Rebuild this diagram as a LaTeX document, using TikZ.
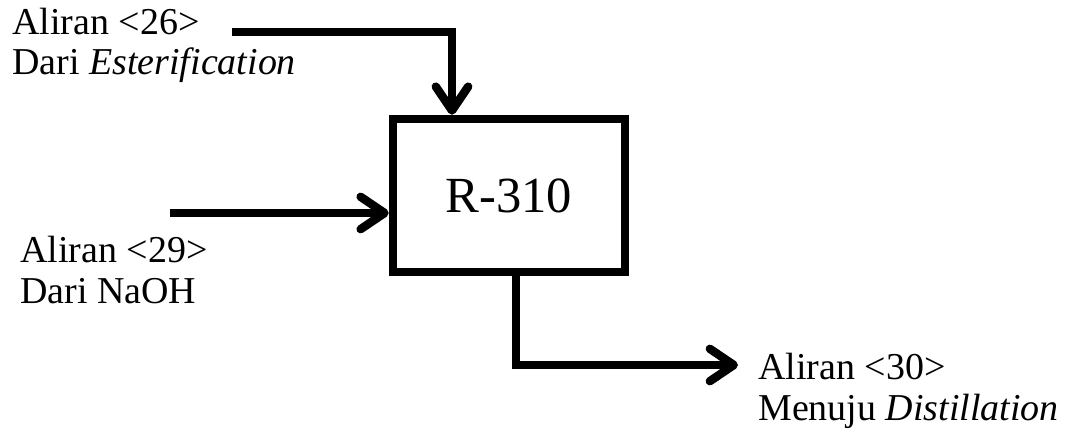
\documentclass[tikz,border=0pt]{standalone}
\usepackage{fontspec}
\setmainfont{Liberation Serif}
\usetikzlibrary{positioning,arrows.meta}

\tikzset{
  flow/.style={line width=6pt,-{Straight Barb[round,length=17pt,width=23pt]},line cap=butt,line join=miter},
  unit/.style={draw,line width=6pt,minimum width=5.8cm,minimum height=3.825cm,font=\fontsize{36}{40}\selectfont},
  lbl/.style={anchor=base west,align=left,inner sep=0pt,font=\fontsize{27}{28.5}\selectfont}
}

\begin{document}
\begin{tikzpicture}[x=0.025cm,y=-0.025cm]
        \useasboundingbox (0,0) rectangle (1066,433);
        % reactor
        \node[unit] (r310) at (509,195.5) {R-310};
        % stream labels (base = second line)
        \node[lbl] (in26) at (12,75) {Aliran <26>\\Dari \textit{Esterification}};
        \node[lbl] (in29) at (20,303) {Aliran <29>\\Dari NaOH};
        \node[lbl] (out30) at (758,420) {Aliran <30>\\Menuju \textit{Distillation}};
        % free ends of the streams
        \coordinate (s26) at (232,32);
        \coordinate (s29) at (170,213);
        \coordinate (e30) at (738,365);
        % streams
        \draw[flow] (s26) -| ([xshift=-1.425cm]r310.north);
        \draw[flow] (s29) -- (s29 -| r310.west);
        \draw[flow] ([xshift=0.175cm]r310.south) |- (e30);
    \end{tikzpicture}
\end{document}
